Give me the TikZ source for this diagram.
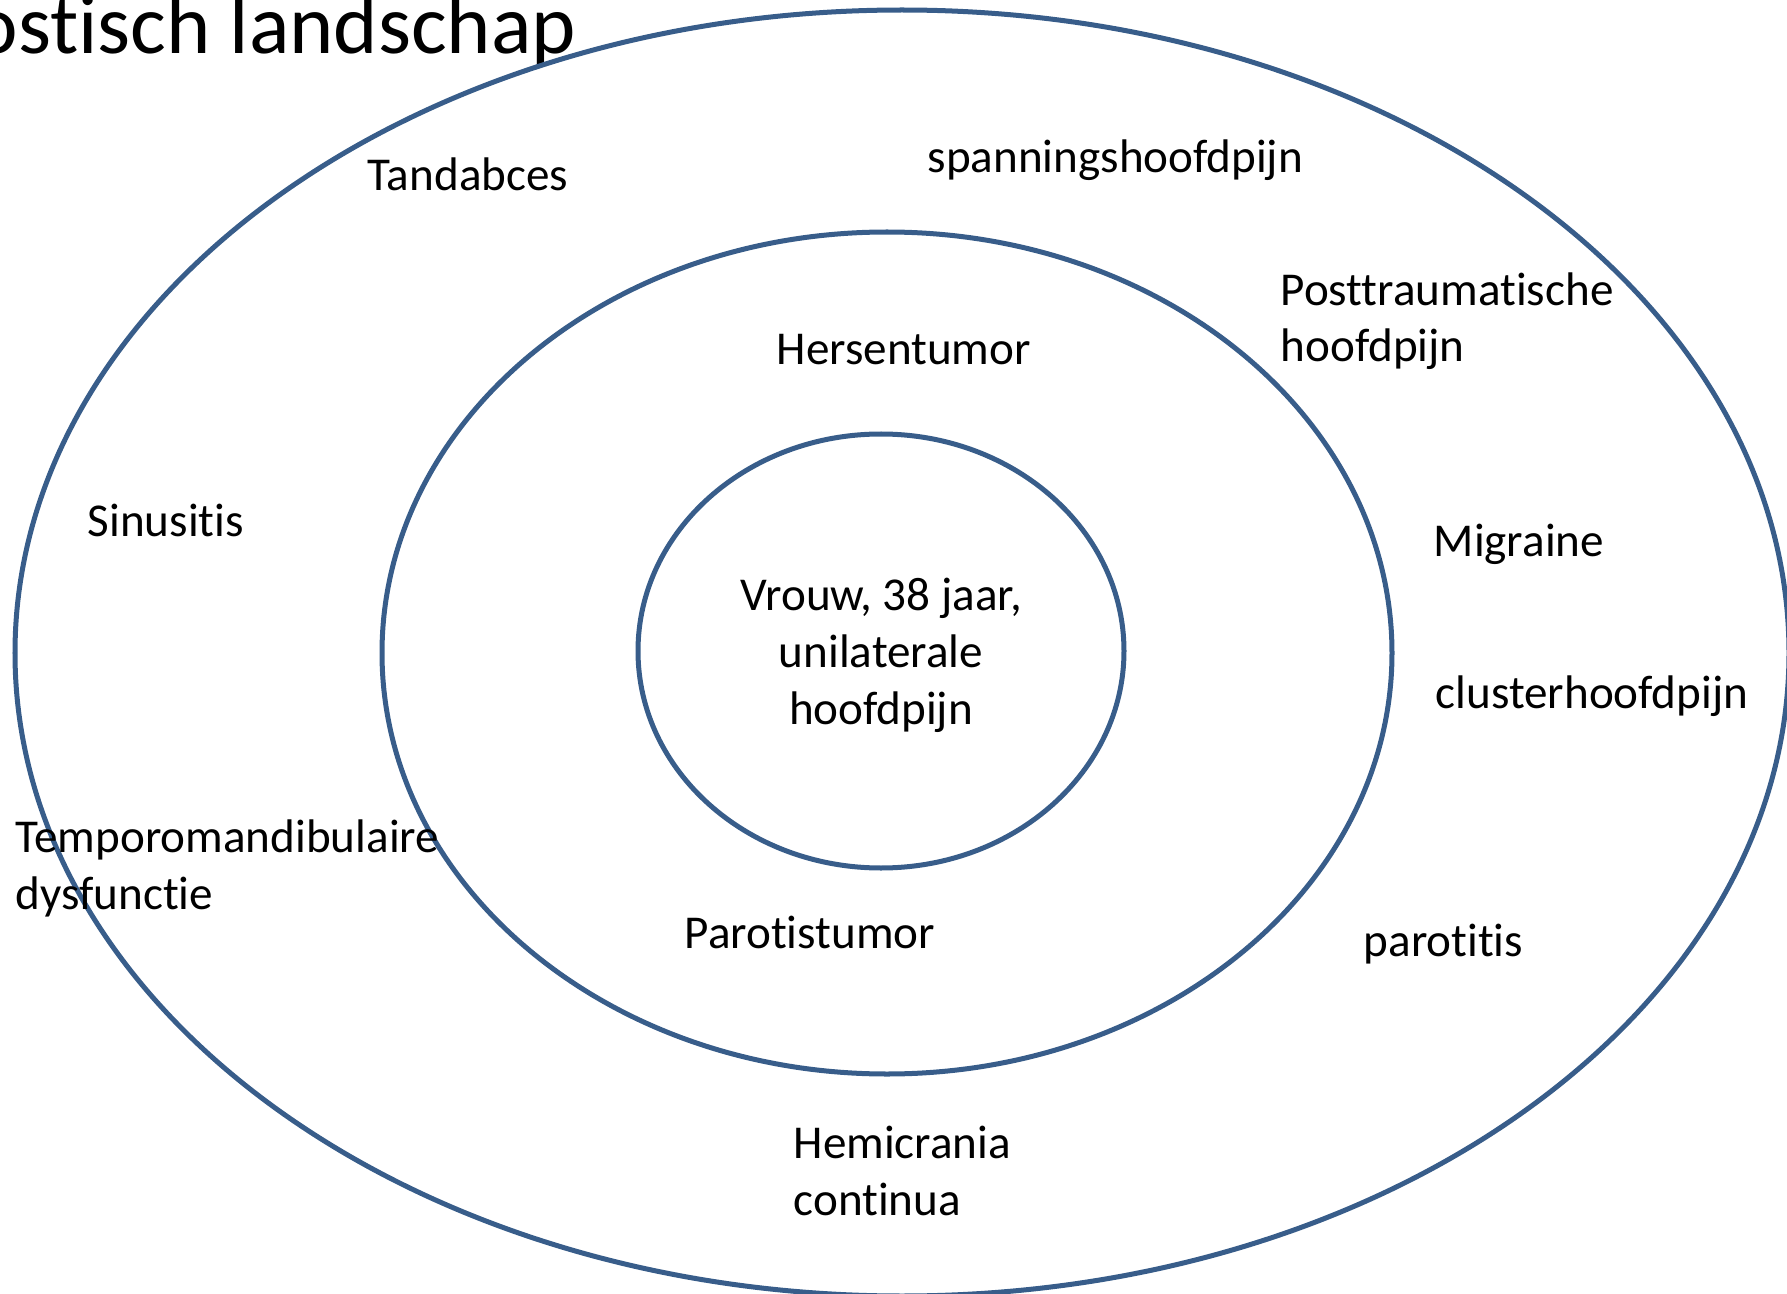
\documentclass[tikz,border=0pt]{standalone}
\usepackage{fontspec}
\setmainfont{Carlito}[Ligatures={NoCommon,NoContextual}, RawFeature={-liga;-clig;-calt;-dlig}]

\definecolor{ringblue}{RGB}{56,93,138}

\tikzset{
  ring/.style={draw=ringblue, line width=0.05cm},
  diagnosis/.style={anchor=base west, inner sep=0pt, align=left,
    font=\fontsize{13.4}{16.2}\selectfont},
}

\begin{document}
\begin{tikzpicture}[x=0.01cm, y=-0.01cm]
        \useasboundingbox (0, 0) rectangle (1787, 1294);

        % Title, cut off at the left edge of the slide
        \node [anchor=base east, inner sep=0pt, font=\fontsize{24}{29}\selectfont]
          (title) at (577, 54) {ostisch landschap};

        % Three rings: outer, middle, inner
        \foreach \cx/\cy/\rx/\ry in {
          902/653/887/643,
          887/653/505/421,
          881/651/243/217
        } {
          \draw [ring] (\cx, \cy) ellipse [x radius=\rx, y radius=\ry];
        }

        % Centre of the landscape
        % (base of a multi-line node is the baseline of its last line)
        \node [diagnosis, anchor=base, align=center] (patient) at (881, 724)
          {Vrouw, 38 jaar,\\unilaterale\\hoofdpijn};

        % Middle ring
        \node [diagnosis] (hersentumor) at (776, 364) {Hersentumor};
        \node [diagnosis] (parotistumor) at (684, 948) {Parotistumor};

        % Outer ring
        \node [diagnosis] (tandabces) at (367, 191) {Tandabces};
        \node [diagnosis] (spanning) at (927, 173) {spanningshoofdpijn};
        \node [diagnosis] (posttrauma) at (1280, 362) {Posttraumatische\\hoofdpijn};
        \node [diagnosis] (sinusitis) at (87, 536) {Sinusitis};
        \node [diagnosis] (migraine) at (1433, 556) {Migraine};
        \node [diagnosis] (cluster) at (1435, 708) {clusterhoofdpijn};
        \node [diagnosis] (tmd) at (15, 909) {Temporomandibulaire\\dysfunctie};
        \node [diagnosis] (parotitis) at (1363, 956) {parotitis};
        \node [diagnosis] (hemicrania) at (793, 1215) {Hemicrania\\continua};

      \end{tikzpicture}
\end{document}
